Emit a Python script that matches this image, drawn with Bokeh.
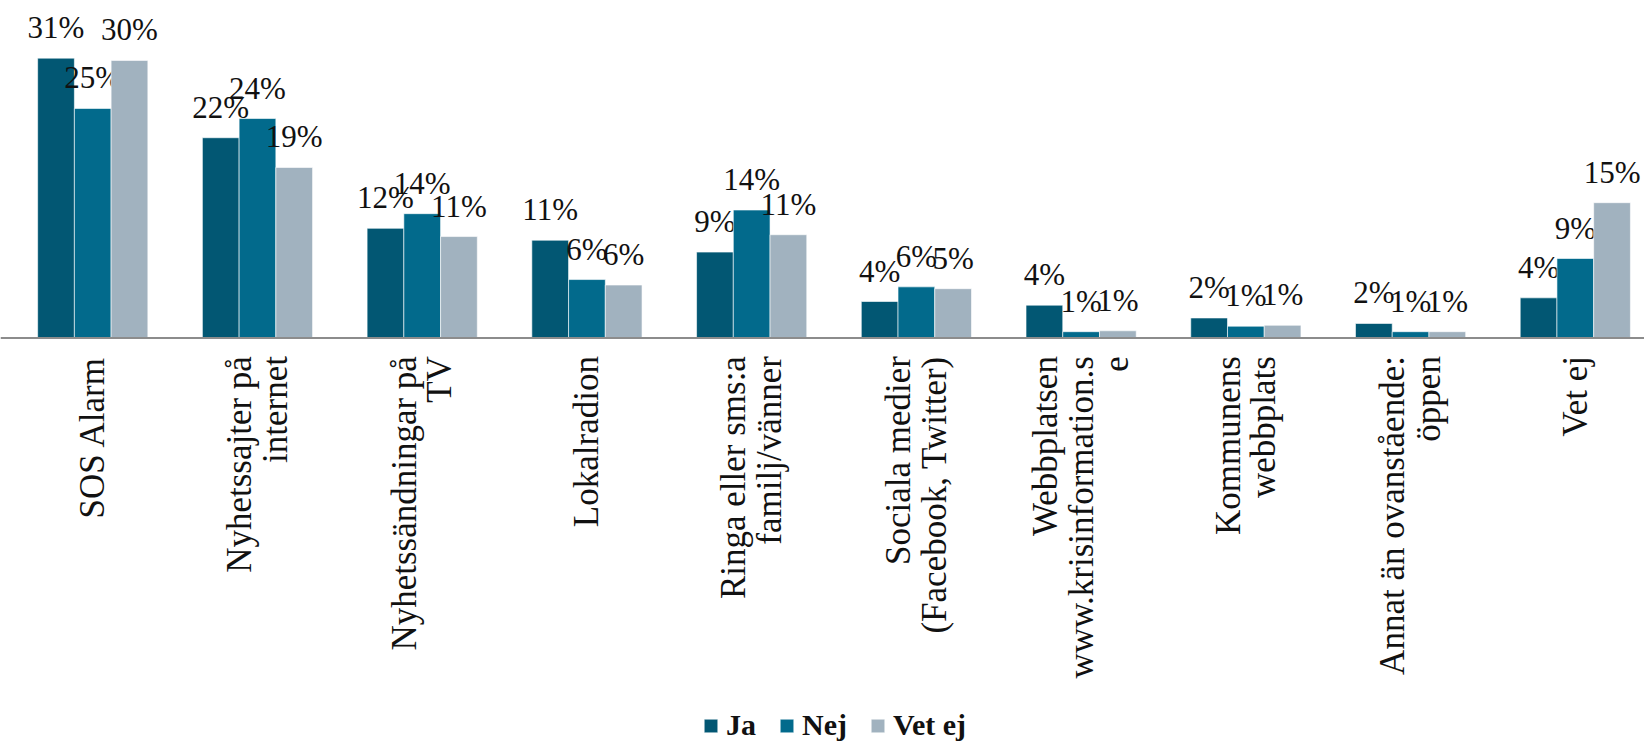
import math
from bokeh.plotting import figure
from bokeh.models import ColumnDataSource, Range1d, Legend, LegendItem, Span
from bokeh.transform import dodge
from bokeh.core.properties import value
from bokeh.embed import file_html
from bokeh.resources import INLINE

categories = [
    "SOS Alarm",
    "Nyhetssajter på\ninternet",
    "Nyhetssändningar på\nTV",
    "Lokalradion",
    "Ringa eller sms:a\nfamilj/vänner",
    "Sociala medier\n(Facebook, Twitter)",
    "Webbplatsen\nwww.krisinformation.s\ne",
    "Kommunens\nwebbplats",
    "Annat än ovanstående:\nöppen",
    "Vet ej",
]
series = ["Ja", "Nej", "Vet ej"]
ja = [30.6, 21.9, 12.0, 10.7, 9.4, 4.0, 3.6, 2.2, 1.6, 4.4]
nej = [25.1, 24.0, 13.6, 6.4, 14.0, 5.6, 0.7, 1.3, 0.7, 8.7]
vet = [30.35, 18.65, 11.1, 5.8, 11.3, 5.4, 0.8, 1.4, 0.7, 14.8]
ja_lbl = ["31%", "22%", "12%", "11%", "9%", "4%", "4%", "2%", "2%", "4%"]
nej_lbl = ["25%", "24%", "14%", "6%", "14%", "6%", "1%", "1%", "1%", "9%"]
vet_lbl = ["30%", "19%", "11%", "6%", "11%", "5%", "1%", "1%", "1%", "15%"]
colors = ["#025773", "#026a8c", "#a1b2bf"]

idx = list(range(len(categories)))
zeros = [0] * len(categories)
src = ColumnDataSource(dict(x=idx, base=zeros, cat=categories, ja=ja, nej=nej, vet=vet,
                            ja_lbl=ja_lbl, nej_lbl=nej_lbl, vet_lbl=vet_lbl))

p = figure(width=1644, height=742, output_backend="svg", toolbar_location=None,
           x_range=Range1d(-0.56, 9.42), y_range=Range1d(-44.2, 36.9),
           x_axis_location=None, y_axis_location=None,
           min_border_left=0, min_border_right=0, min_border_top=0, min_border_bottom=0)
p.outline_line_color = None
p.xgrid.visible = False
p.ygrid.visible = False

bw = 0.223
offs = [-bw, 0.0, bw]
cols = ["ja", "nej", "vet"]
lbls = ["ja_lbl", "nej_lbl", "vet_lbl"]
renderers = []
for c, l, o, col in zip(cols, lbls, offs, colors):
    r = p.vbar(x=dodge("x", o, range=p.x_range), top=c, width=bw, bottom=0, source=src,
               fill_color=col, line_color="white", line_width=0.6)
    renderers.append(r)
    p.text(x=dodge("x", o, range=p.x_range), y=c, text=l, source=src,
           text_align="center", text_baseline="bottom", y_offset=-13,
           text_font=value("Liberation Serif"), text_font_size="31px", text_color="#111111")

# category axis line and labels
p.add_layout(Span(location=0, dimension="width", line_color="#8c8c8c", line_width=2))
p.text(x="x", y="base", text="cat", source=src, angle=math.pi / 2,
       text_align="right", text_baseline="middle", y_offset=18,
       text_font=value("Liberation Serif"), text_font_size="35px",
       text_line_height=0.91, text_color="#111111")

legend = Legend(items=[LegendItem(label=s, renderers=[r]) for s, r in zip(series, renderers)],
                orientation="horizontal", location=(702, 0),
                label_text_font="Liberation Serif", label_text_font_style="bold",
                label_text_font_size="30px", label_text_color="#111111",
                glyph_width=17, glyph_height=17, label_standoff=7, spacing=22,
                border_line_color=None, background_fill_alpha=0, padding=0, margin=0)
p.add_layout(legend, "center")

open("out.html", "w").write(file_html(p, INLINE))
